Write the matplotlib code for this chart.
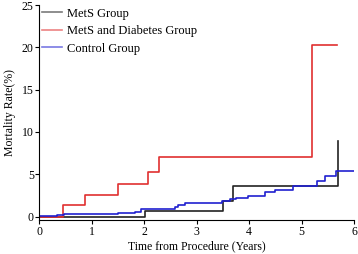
import matplotlib
matplotlib.use("Agg")
import matplotlib.pyplot as plt

plt.rcParams['font.family'] = ['Liberation Serif', 'DejaVu Serif']

# cumulative mortality step curves (time in years, rate in %)
mets_t = [0, 2.01, 3.5, 3.7, 5.69, 5.69]
mets_y = [0, 0.63, 1.9, 3.57, 3.57, 8.9]

diab_t = [0, 0.45, 0.87, 1.5, 2.07, 2.28, 5.2, 5.67]
diab_y = [0, 1.33, 2.6, 3.9, 5.3, 7.0, 20.3, 20.3]

ctrl_t = [0, 0.33, 0.47, 1.5, 1.82, 1.93, 2.58, 2.64, 2.77, 3.49, 3.63, 3.74,
          3.97, 4.3, 4.49, 4.83, 5.29, 5.45, 5.66, 6.0]
ctrl_y = [0.05, 0.15, 0.35, 0.47, 0.6, 0.85, 1.14, 1.38, 1.57, 1.8, 2.04, 2.2,
          2.44, 2.87, 3.18, 3.57, 4.16, 4.75, 5.34, 5.34]

fig = plt.figure(figsize=(3.58, 2.54), dpi=100)
ax = fig.add_axes([0.110, 0.134, 0.879, 0.846])

ax.step(mets_t, mets_y, where='post', color='#222222', lw=1.2, label='MetS Group')
ax.step(diab_t, diab_y, where='post', color='#e03030', lw=1.2, label='MetS and Diabetes Group')
ax.step(ctrl_t, ctrl_y, where='post', color='#2020d0', lw=1.2, label='Control Group')

ax.set_xlim(0, 6)
ax.set_ylim(-0.4, 25)
ax.set_xticks(range(0, 7))
ax.set_yticks([0, 5, 10, 15, 20, 25])
ax.spines['top'].set_visible(False)
ax.spines['right'].set_visible(False)
ax.tick_params(labelsize=8.5, length=3, width=0.8, pad=1)
ax.set_xlabel('Time from Procedure (Years)', fontsize=8.5, labelpad=2)
ax.set_ylabel('Mortality Rate(%)', fontsize=8.5, labelpad=4)

leg = ax.legend(loc='upper left', frameon=False, fontsize=9, handlelength=1.6,
                borderaxespad=0.0, borderpad=0.2, labelspacing=0.45,
                handletextpad=0.4)
for line in leg.get_lines():
    line.set_alpha(0.6)

fig.savefig('out.png', dpi=100)
